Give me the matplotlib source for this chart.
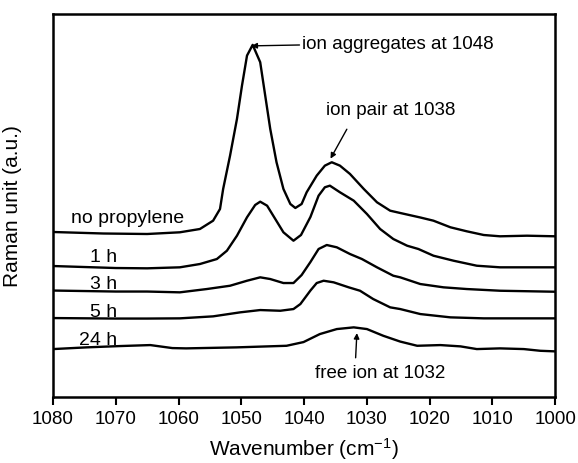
import numpy as np
import matplotlib
matplotlib.use("Agg")
import matplotlib.pyplot as plt

plt.rcParams['font.family'] = ['Liberation Sans', 'DejaVu Sans']
plt.rcParams['mathtext.default'] = 'regular'

# spectra, offset already included (arbitrary units)
w_np = [1080, 1072, 1065, 1059.8, 1056.6, 1054.5, 1053.4, 1052.9, 1051.8, 1050.7, 1049.9, 1049.1,
        1048.2, 1047, 1046.2, 1045.4, 1044.4, 1043.3, 1042.2, 1041.4, 1040.4, 1039.6, 1038,
        1036.7, 1035.6, 1034.3, 1032.7, 1030.5, 1028.4, 1026.3, 1024.7, 1021.5, 1019.4,
        1016.7, 1014.1, 1011.4, 1008.8, 1004.5, 1000]
y_np = [165, 163.5, 163, 164.7, 168, 176.3, 188, 208, 241.3, 278, 311.3, 341.3,
        352, 334.7, 301.3, 268, 234.7, 208, 193, 189, 193, 204.7, 221.3,
        231.3, 234.7, 231.3, 223, 208, 194.7, 186.3, 184, 179.5, 176.3,
        169.7, 165.7, 162, 160.7, 161.3, 160.7]

w_1h = [1080, 1070, 1065, 1059.8, 1056.6, 1053.9, 1052.3, 1050.7, 1049.1, 1047.8, 1047, 1045.9,
        1044.6, 1043.3, 1041.7, 1040.5, 1039, 1037.7, 1036.7, 1035.9, 1034.3, 1032.1, 1030,
        1027.9, 1025.8, 1023.6, 1021.8, 1019.4, 1016.2, 1012.5, 1008.8, 1000]
y_1h = [131, 129, 128.7, 129.7, 133, 138, 146.3, 161.3, 179.7, 192, 195.3, 191.3,
        178, 164.7, 156.3, 162, 180, 201.3, 209.7, 211.3, 204.7, 196.3, 183,
        168, 158, 151.3, 148, 141.3, 136.3, 131.3, 129.7, 129.7]

w_3h = [1080, 1070, 1065, 1059.8, 1055.5, 1051.8, 1049.1, 1047, 1045.4, 1043.3, 1041.7,
        1040.4, 1039, 1037.7, 1036.4, 1034.8, 1032.7, 1030.8, 1028.4, 1025.8, 1024.7,
        1021.5, 1017.8, 1014.1, 1008.8, 1000]
y_3h = [106.5, 105.5, 105.5, 104.7, 108, 111.3, 116.3, 119.7, 118, 114, 114,
        122, 135, 148, 152, 149.7, 143, 138, 129.7, 121.3, 119.7,
        113, 109.7, 108, 106.3, 105.3]

w_5h = [1080, 1070, 1065, 1059.8, 1054.5, 1050.2, 1047, 1043.8, 1041.7, 1040.6, 1039,
        1038, 1036.9, 1035.3, 1032.9, 1031.1, 1029, 1026.3, 1024.7, 1021.5, 1016.7,
        1011.4, 1000]
y_5h = [79, 78.5, 78.5, 78.7, 80.7, 84.7, 87, 86.3, 88, 93, 106.5,
        114, 116.3, 114.7, 109.7, 106.3, 98, 89.7, 88, 83, 79.7,
        78.7, 78.7]

w_24h = [1080, 1074.7, 1069.4, 1064.5, 1061, 1058.8, 1050.8, 1042.8, 1040.1, 1037.5, 1034.8,
         1032.1, 1030, 1027.4, 1024.7, 1022, 1018.3, 1015.1, 1012.5, 1008.8, 1005, 1002.4, 1000]
y_24h = [48, 49.7, 51, 52, 49, 48.7, 49.7, 51.3, 55, 63, 68,
         69.7, 68, 61.3, 55.5, 51.3, 52, 50.7, 48, 48.7, 48, 46.3, 45.7]

series = [(w_np, y_np), (w_1h, y_1h), (w_3h, y_3h), (w_5h, y_5h), (w_24h, y_24h)]

labels = ["no propylene", "1 h", "3 h", "5 h", "24 h"]
label_x = [1068.2, 1071.9, 1071.9, 1071.9, 1072.9]
label_y = [179.3, 141, 113.7, 86, 57.7]

xticks = [1080, 1070, 1060, 1050, 1040, 1030, 1020, 1010, 1000]

fig = plt.figure(figsize=(5.78, 4.64), dpi=100)
ax = fig.add_axes([0.0917, 0.142, 0.869, 0.826])

for w, y in series:
    ax.plot(w, y, color='black', lw=1.7, solid_joinstyle='round')

for t, x, y in zip(labels, label_x, label_y):
    ax.text(x, y, t, fontsize=14, ha='center', va='center')

arrow = dict(arrowstyle='-|>', color='black', lw=1.0, mutation_scale=8, shrinkA=0, shrinkB=0)
ax.annotate("ion aggregates at 1048", xy=(1048.4, 351), xytext=(1040.3, 353.7),
            fontsize=13.5, va='center', ha='left', arrowprops=arrow)
ax.annotate("", xy=(1035.8, 238.3), xytext=(1033.2, 267.7), arrowprops=arrow)
ax.text(1036.5, 287.7, "ion pair at 1038", fontsize=13.5, va='center', ha='left')
ax.annotate("", xy=(1031.6, 64), xytext=(1031.8, 39.3), arrowprops=arrow)
ax.text(1038.2, 24.3, "free ion at 1032", fontsize=13.5, va='center', ha='left')

ax.set_xlim(1080, 1000)
ax.set_ylim(0, 383)
ax.set_xticks(xticks)
ax.set_yticks([])
ax.tick_params(axis='x', direction='out', length=6, width=1.5, labelsize=13.5, pad=3)
for s in ax.spines.values():
    s.set_linewidth(1.8)

ax.set_xlabel("Wavenumber (cm$^{-1}$)", fontsize=15, labelpad=6)
ax.set_ylabel("Raman unit (a.u.)", fontsize=15, labelpad=22)

fig.savefig("out.png", dpi=100)
